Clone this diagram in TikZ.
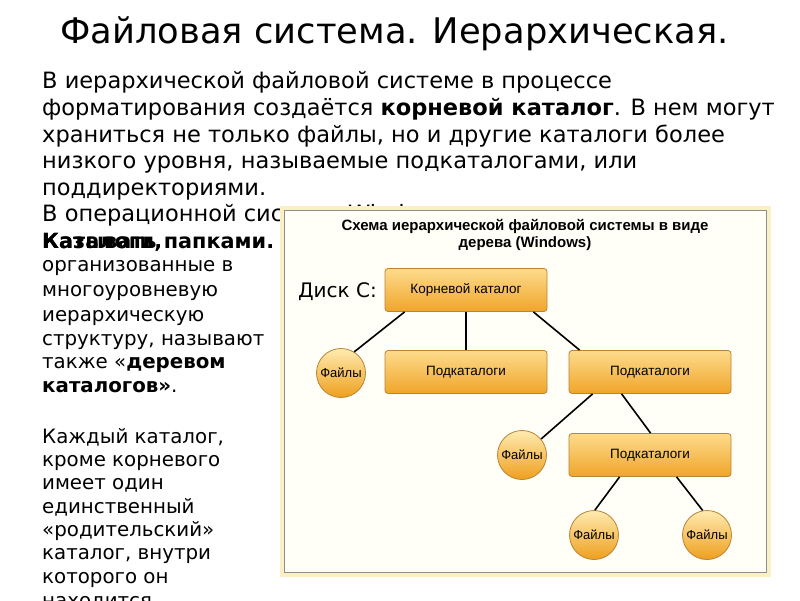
\documentclass[tikz,border=0pt]{standalone}
\usepackage{fontspec}
\setmainfont{DejaVu Sans}
\newfontfamily\arialf{Liberation Sans}
\usetikzlibrary{calc}
\definecolor{boxtop}{HTML}{FDDB8C}
\definecolor{boxbot}{HTML}{F0A52A}
\definecolor{boxline}{HTML}{B98435}
\definecolor{cirtop}{HTML}{FFEBB0}
\definecolor{cirbot}{HTML}{EE9F1E}
\definecolor{framebg}{HTML}{FFFEF7}
\definecolor{glow}{HTML}{FBF0C4}
\definecolor{frameline}{HTML}{8E8E8E}
\tikzset{
  dirbox/.style={draw=boxline, line width=0.8pt, rounded corners=3pt,
    top color=boxtop, bottom color=boxbot, minimum width=162pt, minimum height=43pt,
    inner sep=0pt, font=\arialf\fontsize{13.5}{15}\selectfont},
  filecirc/.style={circle, draw=boxline, line width=0.8pt, top color=cirtop, bottom color=cirbot,
    minimum size=49pt, inner sep=0pt, font=\arialf\fontsize{13}{15}\selectfont},
  conn/.style={line width=1.6pt, black},
  para/.style={anchor=base west, inner sep=0pt, font=\fontsize{22.5}{27}\selectfont},
  col/.style={anchor=base west, inner sep=0pt, font=\fontsize{19.8}{23}\selectfont},
}
\begin{document}
\begin{tikzpicture}[x=1pt, y=-1pt]
\useasboundingbox (0,0) rectangle (800,600);
\fill[white] (0,0) rectangle (800,600);
% title
\node[anchor=base, inner sep=0pt, font=\fontsize{35.3}{40}\selectfont] (title) at (394.5,43) {Файловая система. Иерархическая.};
% top paragraph
\node[para] (p1) at (42,88) {В иерархической файловой системе в процессе};
\node[para] (p2) at (42,115) {форматирования создаётся \textbf{корневой каталог}. В нем могут};
\node[para] (p3) at (42,142) {храниться не только файлы, но и другие каталоги более};
\node[para] (p4) at (42,168) {низкого уровня, называемые подкаталогами, или};
\node[para] (p5) at (42,195) {поддиректориями.};
\node[para] (p6) at (42,221) {В операционной системе Windows};
% left column
\node[col, font=\fontsize{20.8}{24}\selectfont] (c0) at (42,248) {\textbf{Казывать папками.}};
\node[col, font=\fontsize{20.8}{24}\selectfont] (c0b) at (42,248) {\textbf{Каталоги,}};
\node[col] (c1) at (42,271) {организованные в};
\node[col] (c2) at (42,296) {многоуровневую};
\node[col] (c3) at (42,321) {иерархическую};
\node[col] (c4) at (42,345) {структуру, называют};
\node[col] (c5) at (42,368) {также «\textbf{деревом}};
\node[col] (c6) at (42,392) {\textbf{каталогов»}.};
\node[col] (c7) at (42,443) {Каждый каталог,};
\node[col] (c8) at (42,466) {кроме корневого};
\node[col] (c9) at (42,489) {имеет один};
\node[col] (c10) at (42,513) {единственный};
\node[col] (c11) at (42,536) {«родительский»};
\node[col] (c12) at (42,559) {каталог, внутри};
\node[col] (c13) at (42,583) {которого он};
\node[col] (c14) at (42,607) {находится};
% diagram frame
\fill[glow] (280,206) rectangle (771,577);
\filldraw[fill=framebg, draw=frameline, line width=1pt] (284,210) rectangle (766,572);
\node[anchor=north, inner sep=0pt, align=center, font=\arialf\bfseries\fontsize{15}{17}\selectfont] (dtitle) at (525,219)
  {Схема иерархической файловой системы в виде\\дерева (Windows)};
\node[anchor=east, inner sep=0pt, font=\fontsize{20}{23}\selectfont] (disk) at (377,292) {Диск С:};
% nodes
\node[dirbox] (root) at (466,290) {Корневой каталог};
\node[filecirc] (f1) at (341,373) {Файлы};
\node[dirbox] (s1) at (466,372) {Подкаталоги};
\node[dirbox] (s2) at (650,372) {Подкаталоги};
\node[filecirc] (f2) at (522,455) {Файлы};
\node[dirbox] (s3) at (650,455) {Подкаталоги};
\node[filecirc] (f3) at (594,535) {Файлы};
\node[filecirc] (f4) at (707,535) {Файлы};
% connectors
\draw[conn] ($(root.south west)+(20,0)$) -- (f1.58);
\draw[conn] (root.south) -- (s1.north);
\draw[conn] ($(root.south east)+(-14,0)$) -- ($(s2.north west)+(11,0)$);
\draw[conn] ($(s2.south west)+(24,0)$) -- (f2.40);
\draw[conn] ($(s2.south west)+(53,0)$) -- ($(s3.north west)+(82,0)$);
\draw[conn] ($(s3.south west)+(51,0)$) -- (f3.88);
\draw[conn] ($(s3.south west)+(108,0)$) -- (f4.100);
\end{tikzpicture}
\end{document}
